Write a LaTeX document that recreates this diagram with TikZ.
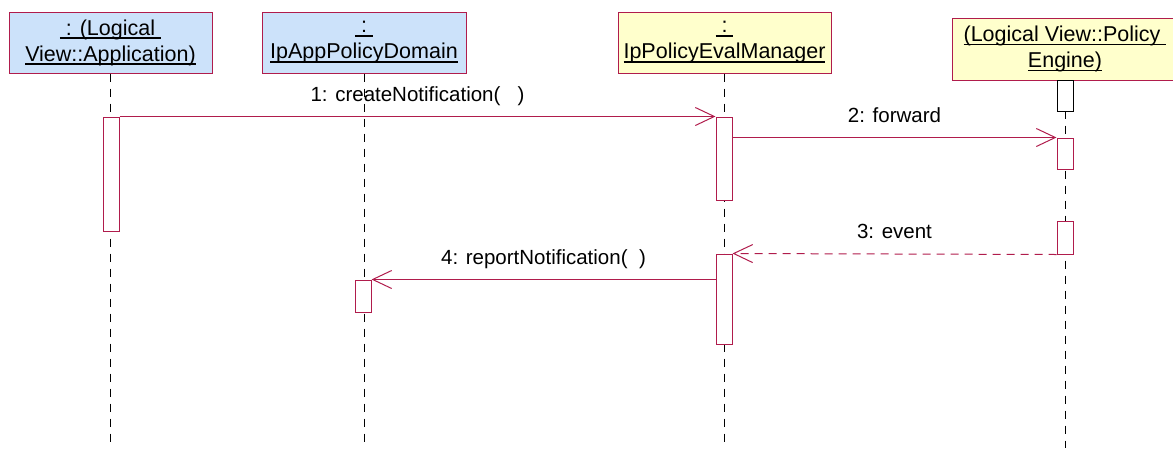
\documentclass[tikz,border=0pt]{standalone}
\usepackage{fontspec}
\setmainfont{Liberation Sans}
\usetikzlibrary{arrows.meta}
\definecolor{roseRed}{RGB}{176,28,76}
\definecolor{classBlue}{RGB}{204,226,250}
\definecolor{classYellow}{RGB}{255,255,204}
\newcommand{\objname}[1]{\setbox0\hbox{#1}\leavevmode\rlap{\rule[-3.6pt]{\wd0}{1.6pt}}\box0}
\tikzset{
  object/.style={rectangle, draw=roseRed, line width=1pt, inner sep=0pt, minimum height=61pt, align=center, font=\fontsize{21.5}{26}\selectfont, execute at begin node={\rule{0pt}{21pt}}},
  appobj/.style={object, fill=classBlue},
  svcobj/.style={object, fill=classYellow},
  activation/.style={rectangle, draw=roseRed, fill=white, line width=1pt, minimum width=16pt, inner sep=0pt},
  lifeline/.style={black, line width=0.8pt, dash pattern=on 8pt off 7pt},
  message/.style={roseRed, line width=1pt, -{Straight Barb[length=19pt,width=18pt]}},
  reply/.style={message, dash pattern=on 8pt off 6pt},
  msglabel/.style={midway, anchor=base, yshift=15.5pt, font=\fontsize{20.5}{25}\selectfont, text=black, inner sep=0pt}
}
\begin{document}
\begin{tikzpicture}[x=1pt, y=-1pt]
\useasboundingbox (0,0) rectangle (1173,448);

\node[appobj, minimum width=203pt] (app) at (110.5,42.5) {\objname{\ : (Logical\ }\\\objname{View::Application)}};
\node[appobj, minimum width=204pt] (domain) at (364,42.5) {\objname{\ :\ }\\\objname{IpAppPolicyDomain}};
\node[svcobj, minimum width=213pt] (evalmgr) at (724.5,42.5) {\objname{\ :\ }\\\objname{IpPolicyEvalManager}};
\node[svcobj, minimum width=226pt, minimum height=62pt] (engine) at (1065,49) {\objname{(Logical View::Policy\ }\\\objname{Engine)}};

\coordinate (bottom) at (0,448);

\draw[lifeline] (app.south) -- (app.south |- bottom);
\draw[lifeline] (domain.south) -- (domain.south |- bottom);
\draw[lifeline] (evalmgr.south) -- (evalmgr.south |- bottom);
\draw[lifeline] (engine.south) -- (engine.south |- bottom);

\node[activation, minimum height=114pt] (actApp) at (111,174) {};
\node[activation, minimum height=32pt] (actDomain) at (363,296) {};
\node[activation, minimum height=83pt] (actMgrA) at (724,158.5) {};
\node[activation, minimum height=90pt] (actMgrB) at (724,299) {};
\node[activation, draw=black, minimum height=31pt] (actEngA) at (1065,95.5) {};
\node[activation, minimum height=31pt] (actEngB) at (1065,153.5) {};
\node[activation, minimum height=33pt] (actEngC) at (1065,237.5) {};

\draw[message] (actApp.north east) -- node[msglabel] {1: createNotification(\ \ \ )} (actMgrA.north west);
\draw[message] (actMgrA.east |- actEngB.north) -- node[msglabel] {2: forward} (actEngB.north west);
\draw[reply] (actEngC.south west) -- node[msglabel] {3: event} (actMgrB.north east);
\draw[message] (actMgrB.west |- actDomain.north) -- node[msglabel] {4: reportNotification(\ \ )} (actDomain.north east);

\end{tikzpicture}
\end{document}
